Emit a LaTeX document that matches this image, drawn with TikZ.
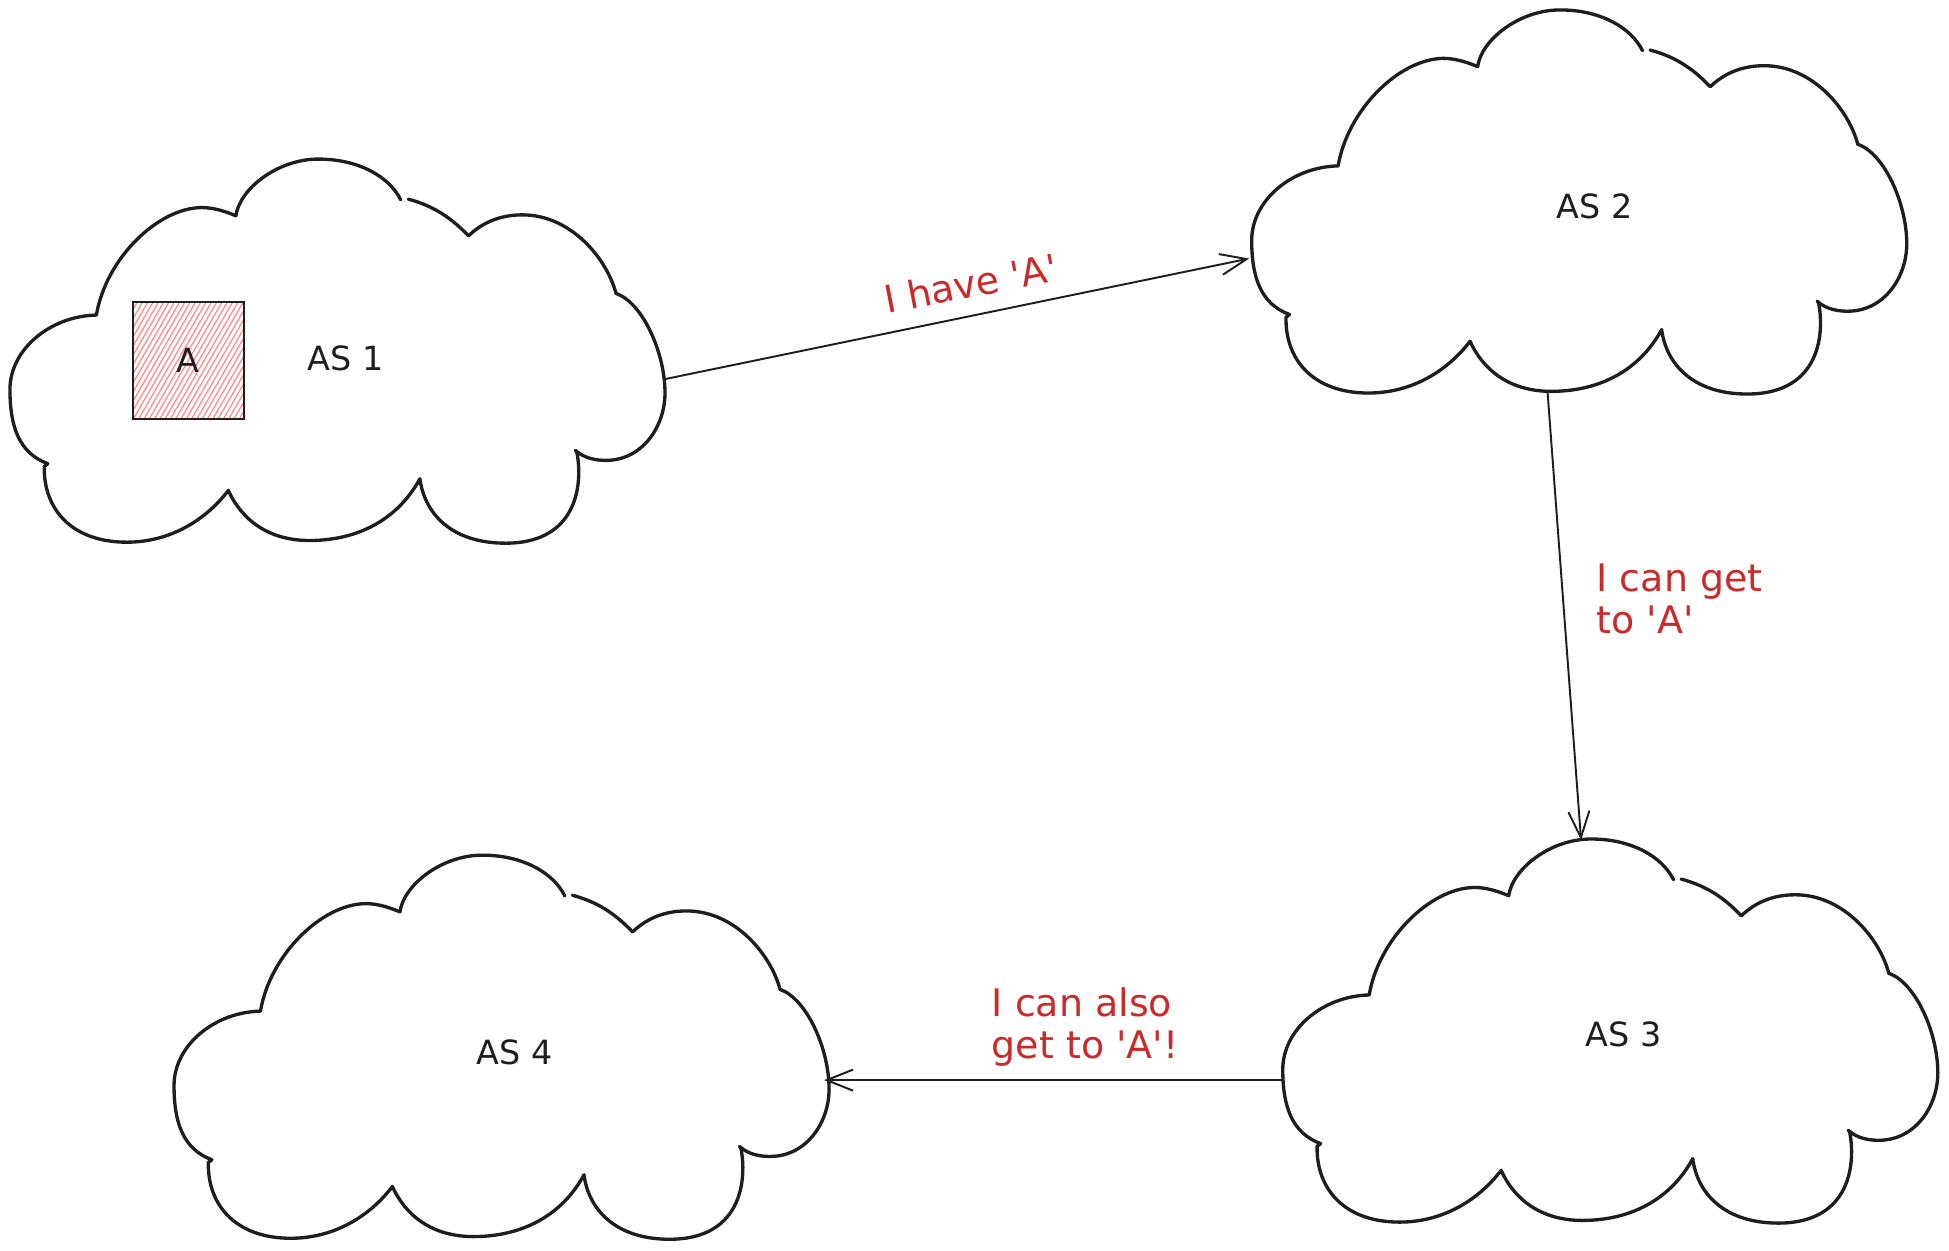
\documentclass[tikz,border=0pt]{standalone}
\usepackage{fontspec}
\setmainfont{DejaVu Sans}
\usetikzlibrary{arrows.meta}
\definecolor{ink}{HTML}{1E1E1E}
\definecolor{redtxt}{HTML}{C92A2A}
\definecolor{hachcol}{HTML}{FF8787}
\newcommand{\drawcloud}[2]{%
\begin{scope}[shift={(#1,#2)},xscale=0.3585,yscale=0.2687]
\draw[cloudline] (894,120) .. controls (950,140) and (990,175) .. (1029,230)
 .. controls (1060,190) and (1100,167) .. (1150,167)
 .. controls (1260,167) and (1340,300) .. (1360,402)
 .. controls (1420,430) and (1470,580) .. (1470,700)
 .. controls (1470,800) and (1420,900) .. (1340,902)
 .. controls (1300,903) and (1280,885) .. (1269,872)
 -- (1272,877)
 .. controls (1285,960) and (1280,1150) .. (1112,1150)
 .. controls (990,1150) and (930,1060) .. (920,957)
 .. controls (870,1080) and (780,1142) .. (672,1142)
 .. controls (580,1142) and (520,1080) .. (490,992)
 .. controls (440,1080) and (360,1147) .. (262,1147)
 .. controls (140,1147) and (75,1050) .. (77,920)
 -- (85,912)
 .. controls (20,880) and (0,800) .. (0,690)
 .. controls (0,570) and (90,470) .. (194,467)
 .. controls (215,300) and (330,147) .. (430,145)
 .. controls (460,145) and (490,160) .. (507,170)
 .. controls (515,90) and (600,0) .. (692,0)
 .. controls (780,0) and (850,50) .. (877,122);
\end{scope}}
\tikzset{
  cloudline/.style={draw=ink, line width=0.95pt, line join=round, line cap=round},
  conn/.style={draw=ink, line width=0.55pt, -{Straight Barb[length=7.5pt,width=6pt]}},
  redlab/.style={text=redtxt, inner sep=0pt, font=\fontsize{10.8}{12}\selectfont},
  blacklab/.style={text=ink, inner sep=0pt, font=\fontsize{9.5}{11}\selectfont},
  hach/.style={draw=hachcol, line width=0.35pt},
}
\begin{document}
\begin{tikzpicture}[x=0.01243cm, y=-0.01243cm]
\useasboundingbox[fill=white] (0,0) rectangle (1568,1006.4);

\drawcloud{8}{128}
\drawcloud{1007}{8}
\drawcloud{1032}{675}
\drawcloud{140}{688}

% box A
\node[draw=ink, line width=0.6pt, minimum width=1.106cm, minimum height=1.168cm, inner sep=0pt,
  path picture={\foreach \k in {-30,...,30} {\draw[hach] ([xshift=\k*0.53mm]path picture bounding box.center) ++(240:1cm) -- ++(60:2cm);}},
  blacklab] (boxA) at (151.5,290) {A};

\node[blacklab] (as1) at (278,288) {AS 1};
\node[blacklab] (as2) at (1283,166) {AS 2};
\node[blacklab] (as3) at (1306,832) {AS 3};
\node[blacklab] (as4) at (414,847) {AS 4};

\coordinate (c1out) at (535,305);
\coordinate (c2in) at (1005,208);
\coordinate (c2out) at (1245,315);
\coordinate (c3in) at (1272,676);
\coordinate (c3out) at (1032,869);
\coordinate (c4in) at (663,869);

\draw[conn] (c1out) -- (c2in);
\draw[conn] (c2out) -- (c3in);
\draw[conn] (c3out) -- (c4in);

\node[redlab, rotate=11] (l1) at (781,228) {I have \textquotesingle A\textquotesingle};
\node[redlab, align=left, anchor=west] (l2) at (1284,482) {I can get\\to \textquotesingle A\textquotesingle};
\node[redlab, align=left] (l3) at (873,826) {I can also\\get to \textquotesingle A\textquotesingle!};
\end{tikzpicture}
\end{document}
